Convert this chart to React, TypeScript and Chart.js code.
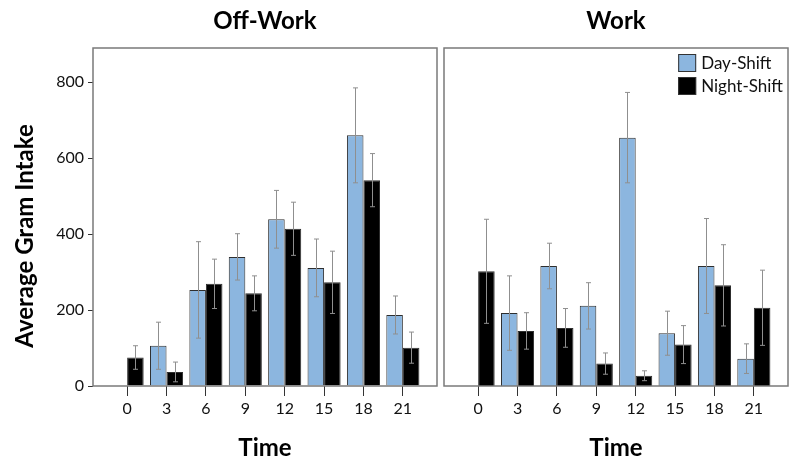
import React, { useEffect, useRef } from "react";
import { Chart, registerables } from "chart.js";
Chart.register(...registerables);

const times = [0, 3, 6, 9, 12, 15, 18, 21];
const yTicks = [0, 200, 400, 600, 800];
const seriesNames = ["Day-Shift", "Night-Shift"];
const panelTitles = ["Off-Work", "Work"];

const offDay = [0, 106, 253, 340, 439, 311, 660, 187];
const offDayErr = [0, 62, 127, 61, 76, 76, 125, 50];
const offNight = [75, 37, 269, 244, 414, 273, 542, 101];
const offNightErr = [31, 26, 65, 46, 70, 82, 70, 41];

const workDay = [0, 192, 316, 211, 654, 139, 316, 72];
const workDayErr = [0, 98, 60, 61, 119, 58, 125, 39];
const workNight = [302, 145, 153, 59, 27, 109, 265, 206];
const workNightErr = [137, 48, 51, 28, 13, 50, 107, 99];

const FONT = "Lato, 'Open Sans', sans-serif";
const DAY_COLOR = "#8cb6df";
const NIGHT_COLOR = "#000000";

const framePlugin = {
  id: "frame",
  afterDatasetsDraw(chart: any) {
    const { left, top, right, bottom } = chart.chartArea;
    const ctx = chart.ctx;
    ctx.save();
    ctx.strokeStyle = "#7a7a7a";
    ctx.lineWidth = 1.5;
    ctx.strokeRect(left, top, right - left, bottom - top);
    ctx.restore();
  },
};

const errorBarPlugin = {
  id: "errorBars",
  afterDatasetsDraw(chart: any) {
    const ctx = chart.ctx;
    const yScale = chart.scales.y;
    ctx.save();
    ctx.strokeStyle = "#8f8f8f";
    ctx.lineWidth = 1;
    chart.data.datasets.forEach((ds: any, di: number) => {
      const meta = chart.getDatasetMeta(di);
      meta.data.forEach((el: any, i: number) => {
        const e = ds.errors[i];
        if (!e) return;
        const v = ds.data[i].y;
        const yTop = yScale.getPixelForValue(v + e);
        const yBot = yScale.getPixelForValue(Math.max(0, v - e));
        const x = Math.round(el.x) + 0.5;
        ctx.beginPath();
        ctx.moveTo(x, yTop);
        ctx.lineTo(x, yBot);
        ctx.moveTo(x - 2.5, yTop);
        ctx.lineTo(x + 2.5, yTop);
        ctx.moveTo(x - 2.5, yBot);
        ctx.lineTo(x + 2.5, yBot);
        ctx.stroke();
      });
    });
    ctx.restore();
  },
};

const legendPlugin = {
  id: "customLegend",
  afterDraw(chart: any) {
    const ctx = chart.ctx;
    const { right, top } = chart.chartArea;
    ctx.save();
    ctx.font = `17px ${FONT}`;
    const labels = chart.data.datasets.map((d: any) => d.label);
    const maxW = Math.max(...labels.map((l: string) => ctx.measureText(l).width));
    const textX = right - 5 - maxW;
    const boxX = textX - 5 - 18;
    chart.data.datasets.forEach((d: any, i: number) => {
      const boxY = top + 6 + i * 23;
      ctx.fillStyle = d.backgroundColor;
      ctx.fillRect(boxX, boxY, 18, 18);
      ctx.strokeStyle = "#333";
      ctx.lineWidth = 1;
      ctx.strokeRect(boxX + 0.5, boxY + 0.5, 17, 17);
      ctx.fillStyle = "#111";
      ctx.textBaseline = "middle";
      ctx.textAlign = "left";
      ctx.fillText(d.label, textX, boxY + 10);
    });
    ctx.restore();
  },
};

const yTitlePlugin = {
  id: "yTitle",
  afterDraw(chart: any) {
    const ctx = chart.ctx;
    ctx.save();
    ctx.translate(25, 236);
    ctx.rotate(-Math.PI / 2);
    ctx.font = `bold 24px ${FONT}`;
    ctx.fillStyle = "#000";
    ctx.textAlign = "center";
    ctx.textBaseline = "middle";
    ctx.fillText("Average Gram Intake", 0, 0);
    ctx.restore();
  },
};

function makeConfig(
  title: string,
  day: number[],
  dayErr: number[],
  night: number[],
  nightErr: number[],
  showY: boolean,
  padLeft: number,
  padRight: number,
  extraPlugins: any[]
): any {
  const yScale: any = {
    display: showY,
    min: 0,
    max: 890,
    afterBuildTicks: (s: any) => {
      s.ticks = yTicks.map((v) => ({ value: v }));
    },
    grid: {
      drawOnChartArea: false,
      drawTicks: true,
      tickLength: 5,
      color: "#333",
    },
    border: { display: false },
    ticks: {
      padding: 4,
      color: "#111",
      font: { family: FONT, size: 16 },
    },
  };
  if (showY) {
    yScale.afterFit = (s: any) => {
      s.width = 93;
    };
  }
  return {
    type: "bar",
    data: {
      datasets: [
        {
          label: seriesNames[0],
          data: times.map((t, i) => ({ x: t, y: day[i] })),
          errors: dayErr,
          backgroundColor: DAY_COLOR,
          borderColor: "#2e2e2e",
          borderWidth: 1,
          categoryPercentage: 0.84,
          barPercentage: 1,
        },
        {
          label: seriesNames[1],
          data: times.map((t, i) => ({ x: t, y: night[i] })),
          errors: nightErr,
          backgroundColor: NIGHT_COLOR,
          borderColor: "#2e2e2e",
          borderWidth: 1,
          categoryPercentage: 0.84,
          barPercentage: 1,
        },
      ],
    },
    options: {
      responsive: false,
      animation: false,
      layout: { padding: { left: padLeft, right: padRight, top: 0, bottom: 0 } },
      plugins: {
        legend: { display: false },
        tooltip: { enabled: false },
        title: {
          display: true,
          text: title,
          fullSize: false,
          color: "#000",
          font: { family: FONT, size: 24, weight: "bold" },
          padding: { top: 7, bottom: 12.2 },
        },
      },
      scales: {
        x: {
          type: "linear",
          min: -2.6,
          max: 23.6,
          offset: false,
          afterBuildTicks: (s: any) => {
            s.ticks = times.map((v) => ({ value: v }));
          },
          afterFit: (s: any) => {
            s.height = 84;
          },
          grid: {
            display: true,
            offset: false,
            drawOnChartArea: false,
            drawTicks: true,
            tickLength: 10,
            color: "#333",
          },
          border: { display: false },
          ticks: {
            autoSkip: false,
            maxRotation: 0,
            padding: 3,
            color: "#111",
            font: { family: FONT, size: 16 },
            callback: (v: any) => String(v),
          },
          title: {
            display: true,
            text: "Time",
            color: "#000",
            font: { family: FONT, size: 24, weight: "bold" },
            padding: { top: 0, bottom: 7 },
          },
        },
        y: yScale,
      },
    },
    plugins: [framePlugin, errorBarPlugin, ...extraPlugins],
  };
}

function Panel({ config, width, height, left }: { config: any; width: number; height: number; left: number }) {
  const ref = useRef<HTMLCanvasElement>(null);
  useEffect(() => {
    const chart = new Chart(ref.current as HTMLCanvasElement, config);
    return () => chart.destroy();
  }, []);
  return (
    <canvas
      ref={ref}
      width={width}
      height={height}
      style={{ position: "absolute", left, top: 0, width, height }}
    />
  );
}

export default function App() {
  const leftCfg = makeConfig(panelTitles[0], offDay, offDayErr, offNight, offNightErr, true, 0, 3, [yTitlePlugin]);
  const rightCfg = makeConfig(panelTitles[1], workDay, workDayErr, workNight, workNightErr, false, 4, 12, [legendPlugin]);
  return (
    <div
      style={{
        position: "fixed",
        left: 0,
        top: 0,
        width: 800,
        height: 470,
        background: "#fff",
        overflow: "hidden",
      }}
    >
      <Panel config={leftCfg} width={440} height={470} left={0} />
      <Panel config={rightCfg} width={360} height={470} left={440} />
    </div>
  );
}
